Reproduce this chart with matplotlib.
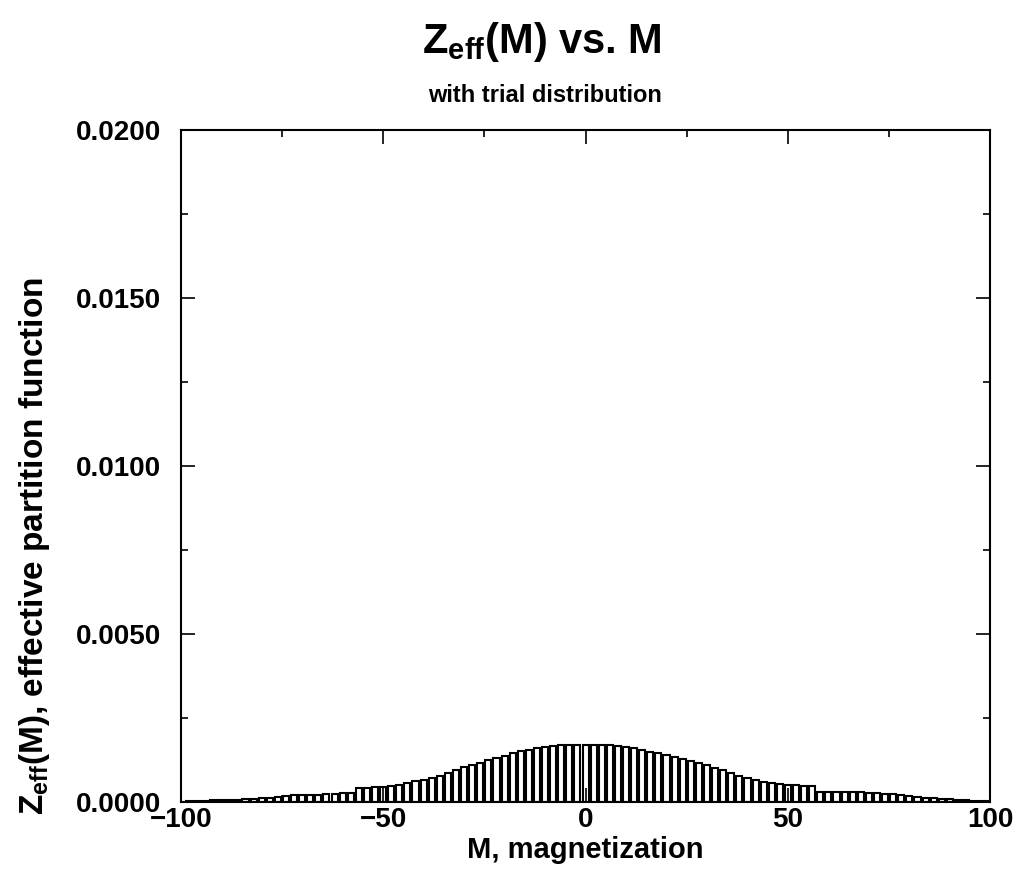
import numpy as np
import matplotlib
matplotlib.use("Agg")
import matplotlib.pyplot as plt
from matplotlib.ticker import MultipleLocator, FormatStrFormatter

# magnetization values (M = -100 .. 100, step 2)
magnetization = np.arange(-100, 101, 2)

# Z_eff(M)
z_eff = [
    0.00000, 0.00001, 0.00002, 0.00003, 0.00004, 0.00005, 0.00006, 0.00006,
    0.00007, 0.00008, 0.00010, 0.00011, 0.00014, 0.00016, 0.00019, 0.00020,
    0.00021, 0.00021, 0.00023, 0.00024, 0.00025, 0.00026, 0.00041, 0.00042,
    0.00043, 0.00045, 0.00047, 0.00051, 0.00056, 0.00061, 0.00066, 0.00072,
    0.00078, 0.00086, 0.00094, 0.00102, 0.00109, 0.00116, 0.00123, 0.00130,
    0.00137, 0.00144, 0.00150, 0.00155, 0.00159, 0.00163, 0.00166, 0.00168,
    0.00169, 0.00170, 0.00170, 0.00170, 0.00169, 0.00168, 0.00166, 0.00163,
    0.00159, 0.00154, 0.00149, 0.00144, 0.00139, 0.00133, 0.00127, 0.00120,
    0.00114, 0.00108, 0.00100, 0.00093, 0.00085, 0.00077, 0.00070, 0.00064,
    0.00059, 0.00055, 0.00052, 0.00050, 0.00049, 0.00048, 0.00047, 0.00030,
    0.00030, 0.00030, 0.00029, 0.00029, 0.00028, 0.00027, 0.00025, 0.00024,
    0.00022, 0.00019, 0.00017, 0.00014, 0.00012, 0.00011, 0.00009, 0.00007,
    0.00006, 0.00005, 0.00003, 0.00002, 0.00001,
]

x_ticks = [-100, -50, 0, 50, 100]
y_ticks = [0.0, 0.005, 0.010, 0.015, 0.020]

plt.rcParams['font.family'] = ['Liberation Sans', 'DejaVu Sans']
plt.rcParams['font.weight'] = 'bold'
plt.rcParams['mathtext.fontset'] = 'custom'
plt.rcParams['mathtext.rm'] = 'Liberation Sans:bold'
plt.rcParams['mathtext.it'] = 'Liberation Sans:bold'
plt.rcParams['mathtext.bf'] = 'Liberation Sans:bold'

fig = plt.figure(figsize=(10.21, 8.82), dpi=100)
ax = fig.add_axes([0.177, 0.091, 0.793, 0.762])

ax.bar(magnetization, z_eff, width=1.5, color='white',
       edgecolor='black', linewidth=1.5)

ax.set_xlim(-100, 100)
ax.set_ylim(0, 0.02)
ax.set_xticks(x_ticks)
ax.set_yticks(y_ticks)
ax.xaxis.set_minor_locator(MultipleLocator(25))
ax.yaxis.set_minor_locator(MultipleLocator(0.0025))
ax.yaxis.set_major_formatter(FormatStrFormatter('%.4f'))
ax.tick_params(which='both', direction='in', top=True, right=True, width=1.2)
ax.tick_params(which='major', length=10, labelsize=20)
ax.tick_params(axis='y', which='major', pad=14)
ax.tick_params(axis='x', which='major', pad=4)
ax.tick_params(which='minor', length=5)
for spine in ax.spines.values():
    spine.set_linewidth(1.5)

ax.set_xlabel('M, magnetization', fontsize=21, fontweight='bold', labelpad=2)
ax.set_ylabel(r'Z$_{\rm eff}$(M), effective partition function',
              fontsize=24, fontweight='bold')
ax.yaxis.set_label_coords(-0.159, 0.381)

fig.text(0.531, 0.952, r'Z$_{\rm eff}$(M) vs. M', ha='center', va='center',
         fontsize=30, fontweight='bold')
fig.text(0.534, 0.892, 'with trial distribution', ha='center', va='center',
         fontsize=17, fontweight='bold')

fig.savefig('out.png', dpi=100)
